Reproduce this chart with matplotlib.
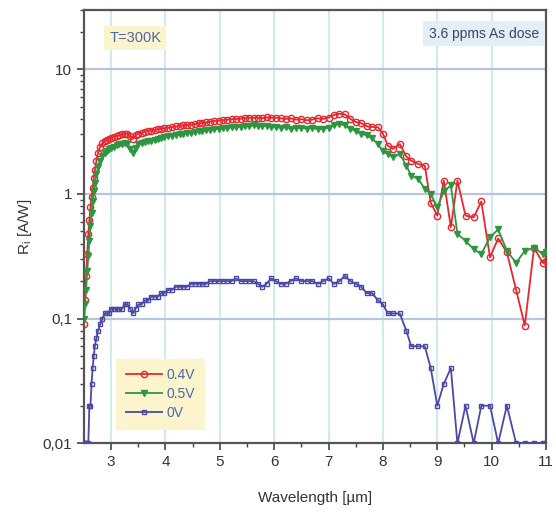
import matplotlib
matplotlib.use('Agg')
import matplotlib.pyplot as plt
from matplotlib.ticker import FixedLocator, LogLocator, NullFormatter, FuncFormatter

plt.rcParams['font.family'] = ['Liberation Sans', 'DejaVu Sans']

# wavelength grid [um], shared by the three curves
wavelength = [
    2.50, 2.52, 2.54, 2.56, 2.58, 2.60, 2.62, 2.64, 2.66, 2.68,
    2.70, 2.73, 2.76, 2.80, 2.84, 2.88, 2.92, 2.96, 3.00, 3.05,
    3.10, 3.15, 3.20, 3.25, 3.30, 3.35, 3.40, 3.45, 3.50, 3.56,
    3.62, 3.68, 3.74, 3.80, 3.86, 3.92, 3.98, 4.05, 4.12, 4.19,
    4.26, 4.33, 4.40, 4.47, 4.54, 4.61, 4.68, 4.75, 4.82, 4.90,
    4.98, 5.06, 5.14, 5.22, 5.30, 5.38, 5.46, 5.54, 5.62, 5.70,
    5.78, 5.86, 5.94, 6.03, 6.12, 6.21, 6.30, 6.40, 6.50, 6.60,
    6.70, 6.80, 6.90, 7.00, 7.10, 7.20, 7.30, 7.40, 7.50, 7.60,
    7.70, 7.80, 7.91, 8.00, 8.09, 8.19, 8.31, 8.43, 8.52, 8.65,
    8.77, 8.88, 9.00, 9.12, 9.25, 9.37, 9.52, 9.67, 9.81, 9.97,
    10.12, 10.28, 10.45, 10.61, 10.78, 10.94, 11.00,
]

# responsivity [A/W]
r_04V = [
    0.09, 0.14, 0.22, 0.33, 0.48, 0.62, 0.78, 0.95, 1.12, 1.35,
    1.55, 1.85, 2.15, 2.40, 2.55, 2.65, 2.72, 2.78, 2.82, 2.88,
    2.92, 2.96, 3.00, 3.02, 3.05, 2.90, 2.78, 2.95, 3.05, 3.10,
    3.15, 3.20, 3.22, 3.26, 3.30, 3.33, 3.37, 3.40, 3.45, 3.48,
    3.50, 3.55, 3.58, 3.60, 3.65, 3.68, 3.72, 3.75, 3.80, 3.85,
    3.88, 3.92, 3.95, 3.98, 4.00, 4.02, 4.05, 4.10, 4.08, 4.10,
    4.05, 4.12, 4.08, 4.10, 4.05, 4.00, 4.05, 3.95, 3.98, 3.90,
    3.95, 4.05, 4.00, 4.10, 4.30, 4.40, 4.35, 4.00, 3.78, 3.70,
    3.50, 3.45, 3.43, 3.05, 2.44, 2.30, 2.52, 2.00, 1.85, 1.74,
    1.69, 0.85, 0.67, 1.28, 0.54, 1.28, 0.67, 0.65, 0.87, 0.31,
    0.44, 0.34, 0.17, 0.088, 0.37, 0.28, 0.29,
]

r_05V = [
    0.10, 0.13, 0.17, 0.24, 0.32, 0.42, 0.55, 0.70, 0.88, 1.05,
    1.22, 1.45, 1.65, 1.85, 2.00, 2.12, 2.20, 2.28, 2.35, 2.40,
    2.45, 2.50, 2.52, 2.55, 2.50, 2.30, 2.15, 2.35, 2.50, 2.55,
    2.60, 2.65, 2.68, 2.72, 2.76, 2.80, 2.85, 2.90, 2.93, 2.97,
    3.00, 3.03, 3.07, 3.10, 3.15, 3.18, 3.20, 3.25, 3.28, 3.30,
    3.35, 3.38, 3.40, 3.42, 3.45, 3.47, 3.50, 3.52, 3.55, 3.50,
    3.48, 3.52, 3.45, 3.45, 3.40, 3.42, 3.35, 3.38, 3.40, 3.35,
    3.38, 3.32, 3.35, 3.40, 3.55, 3.65, 3.55, 3.35, 3.20, 3.05,
    2.95, 2.80, 2.50, 2.20, 2.10, 1.97, 2.09, 1.69, 1.40, 1.32,
    1.10, 1.00, 0.78, 1.05, 1.17, 0.48, 0.42, 0.36, 0.33, 0.45,
    0.52, 0.35, 0.28, 0.35, 0.37, 0.33, 0.34,
]

r_0V = [
    0.01, 0.01, 0.01, 0.01, 0.01, 0.02, 0.02, 0.03, 0.04, 0.05,
    0.06, 0.07, 0.08, 0.09, 0.10, 0.11, 0.11, 0.11, 0.12, 0.12,
    0.12, 0.12, 0.12, 0.13, 0.13, 0.12, 0.11, 0.12, 0.13, 0.13,
    0.14, 0.14, 0.15, 0.15, 0.15, 0.16, 0.16, 0.17, 0.17, 0.18,
    0.18, 0.18, 0.18, 0.19, 0.19, 0.19, 0.19, 0.19, 0.20, 0.20,
    0.20, 0.20, 0.20, 0.20, 0.21, 0.20, 0.20, 0.20, 0.20, 0.19,
    0.18, 0.19, 0.21, 0.20, 0.19, 0.19, 0.20, 0.21, 0.20, 0.20,
    0.20, 0.19, 0.20, 0.21, 0.19, 0.20, 0.22, 0.20, 0.19, 0.18,
    0.16, 0.16, 0.14, 0.13, 0.11, 0.11, 0.11, 0.08, 0.06, 0.06,
    0.06, 0.04, 0.02, 0.03, 0.04, 0.01, 0.02, 0.01, 0.02, 0.02,
    0.01, 0.02, 0.01, 0.01, 0.01, 0.01, 0.01,
]

labels = ['0.4V', '0.5V', '0V']
x_ticks = [3, 4, 5, 6, 7, 8, 9, 10, 11]
x_minor = [3.5, 4.5, 5.5, 6.5, 7.5, 8.5, 9.5, 10.5]
y_ticks = [0.01, 0.1, 1, 10]
y_tick_labels = ['0,01', '0,1', '1', '10']

fig = plt.figure(figsize=(5.56, 5.19), dpi=100)
ax = fig.add_axes([0.151, 0.146, 0.831, 0.835])

red = '#e8262e'
green = '#2e9640'
blue = '#4a4aa6'

ax.plot(wavelength, r_04V, color=red, lw=1.3, marker='o', ms=4.5,
        mfc='none', mec=red, mew=1.0, label=labels[0], zorder=3)
ax.plot(wavelength, r_05V, color=green, lw=1.3, marker='v', ms=4.2,
        mfc=green, mec=green, label=labels[1], zorder=3)
ax.plot(wavelength, r_0V, color=blue, lw=1.3, marker='s', ms=3.3,
        mfc='none', mec=blue, mew=1.0, label=labels[2], zorder=3)

ax.set_yscale('log')
ax.set_xlim(2.5, 11)
ax.set_ylim(0.01, 30)

# grid: vertical at integer wavelengths, horizontal at decades
for xv in x_ticks[:-1]:
    ax.axvline(xv, color='#c8e6ee', lw=1.2, zorder=1)
for yv in [0.1, 1, 10]:
    ax.axhline(yv, color='#b6c6dc', lw=1.6, zorder=1)

ax.xaxis.set_major_locator(FixedLocator(x_ticks))
ax.xaxis.set_minor_locator(FixedLocator(x_minor))
ax.yaxis.set_major_locator(FixedLocator(y_ticks))
ax.yaxis.set_major_formatter(FuncFormatter(lambda v, p: y_tick_labels[y_ticks.index(v)] if v in y_ticks else ''))
ax.yaxis.set_minor_locator(LogLocator(base=10, subs=range(2, 10)))
ax.yaxis.set_minor_formatter(NullFormatter())

ax.tick_params(axis='both', which='major', direction='out', length=5, width=1.2,
               color='#444444', labelsize=11, labelcolor='#333333')
ax.tick_params(axis='both', which='minor', direction='out', length=3, width=1.0,
               color='#444444')
for s in ax.spines.values():
    s.set_color('#555555')
    s.set_linewidth(1.6)

ax.set_xlabel('Wavelength [\u00b5m]', fontsize=11, color='#333333', labelpad=16)
ax.set_ylabel('R$_{\\mathregular{i}}$ [A/W]', fontsize=11, color='#333333', labelpad=6)

ax.text(0.055, 0.935, 'T=300K', transform=ax.transAxes, fontsize=10.5, color='#4a68a8',
        va='center', ha='left',
        bbox=dict(boxstyle='square,pad=0.35', fc='#fbf4cc', ec='none'))
ax.text(0.985, 0.945, '3.6 ppms As dose', transform=ax.transAxes, fontsize=10, color='#3c4658',
        va='center', ha='right',
        bbox=dict(boxstyle='square,pad=0.4', fc='#e2eef8', ec='none'))

leg = ax.legend(loc='lower left', bbox_to_anchor=(0.055, 0.015), frameon=True, fancybox=False,
                fontsize=10, handlelength=2.6, handletextpad=0.3, labelspacing=0.35,
                borderpad=0.7)
leg.get_frame().set_facecolor('#fbf4cc')
leg.get_frame().set_edgecolor('none')
leg.get_frame().set_alpha(1)
for t in leg.get_texts():
    t.set_color('#4a68a8')

fig.savefig('out.png', dpi=100)
